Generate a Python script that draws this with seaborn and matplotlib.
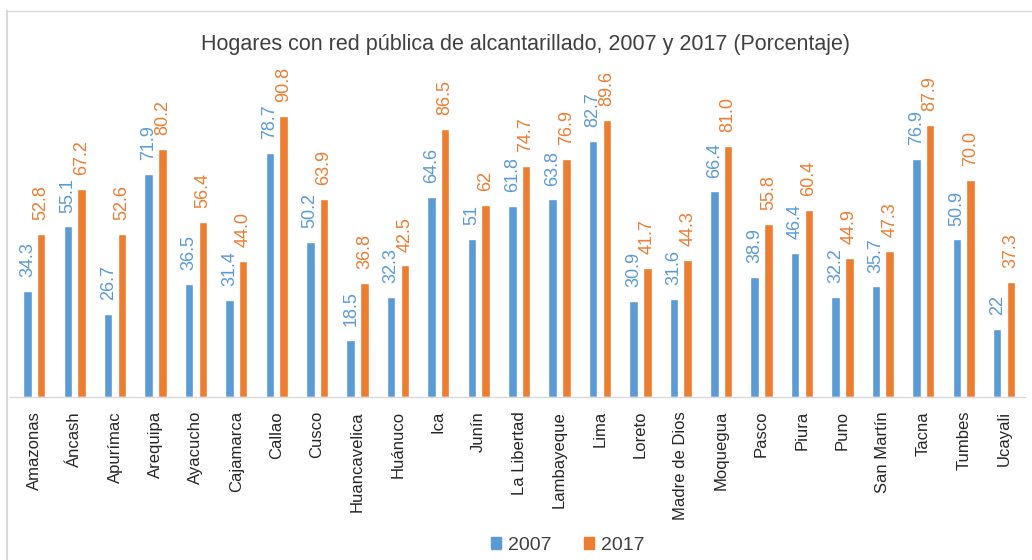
import matplotlib
matplotlib.use("Agg")
import matplotlib.pyplot as plt
from matplotlib.lines import Line2D
import seaborn as sns
import pandas as pd

regiones = ["Amazonas", "Áncash", "Apurímac", "Arequipa", "Ayacucho", "Cajamarca",
            "Callao", "Cusco", "Huancavelica", "Huánuco", "Ica", "Junín",
            "La Libertad", "Lambayeque", "Lima", "Loreto", "Madre de Dios",
            "Moquegua", "Pasco", "Piura", "Puno", "San Martín", "Tacna",
            "Tumbes", "Ucayali"]
valores_2007 = [34.3, 55.1, 26.7, 71.9, 36.5, 31.4, 78.7, 50.2, 18.5, 32.3, 64.6, 51,
                61.8, 63.8, 82.7, 30.9, 31.6, 66.4, 38.9, 46.4, 32.2, 35.7, 76.9,
                50.9, 22]
valores_2017 = [52.8, 67.2, 52.6, 80.2, 56.4, 44.0, 90.8, 63.9, 36.8, 42.5, 86.5, 62,
                74.7, 76.9, 89.6, 41.7, 44.3, 81.0, 55.8, 60.4, 44.9, 47.3, 87.9,
                70.0, 37.3]
anios = ["2007", "2017"]
colores = ["#5B9BD5", "#ED7D31"]

df = pd.DataFrame({
    "Región": regiones * 2,
    "Año": [anios[0]] * len(regiones) + [anios[1]] * len(regiones),
    "Valor": valores_2007 + valores_2017,
})

sns.set_theme(style="white")
plt.rcParams["font.family"] = ["Liberation Sans", "DejaVu Sans"]

fig = plt.figure(figsize=(10.32, 5.6), dpi=100)
ax = fig.add_axes([0.0097, 0.291, 0.9836, 0.553])

sns.barplot(data=df, x="Región", y="Valor", hue="Año", order=regiones,
            hue_order=anios, palette=colores, width=0.68, gap=0.38,
            saturation=1, ax=ax, legend=True)

# Value labels above each bar, rotated like the category labels
for container, color, vals in zip(ax.containers, colores, [valores_2007, valores_2017]):
    for bar, v in zip(container, vals):
        ax.annotate(str(v), (bar.get_x() + bar.get_width() / 2, bar.get_height()),
                    xytext=(0, 10), textcoords="offset points", rotation=90,
                    ha="center", va="bottom", color=color, fontsize=13,
                    annotation_clip=False)

ax.set_ylim(0, 100)
ax.set_xlim(-0.6, len(regiones) - 0.48)
ax.set_xlabel("")
ax.set_ylabel("")
ax.set_yticks([])
for s in ["top", "right", "left"]:
    ax.spines[s].set_visible(False)
ax.spines["bottom"].set_color("#D9D9D9")
ax.spines["bottom"].set_linewidth(1.0)
ax.tick_params(axis="x", length=0, pad=10, labelsize=12, labelcolor="#262626",
               rotation=90)

ax.legend_.remove()
handles = [plt.Rectangle((0, 0), 1, 1, color=c) for c in colores]
fig.legend(handles, anios, loc="center", bbox_to_anchor=(0.550, 0.026), ncol=2,
           frameon=False, fontsize=14, handlelength=0.5, handleheight=0.5,
           columnspacing=1.7, handletextpad=0.35, labelcolor="#404040")

fig.text(0.509, 0.92, "Hogares con red pública de alcantarillado, 2007 y 2017 (Porcentaje)",
         ha="center", va="center", fontsize=15.5, color="#404040")

# Light frame along the top and left edges
fig.add_artist(Line2D([0.0065, 1.0], [0.980, 0.980], color="#D9D9D9", lw=1.0))
fig.add_artist(Line2D([0.0065, 0.0065], [0.0, 0.980], color="#D9D9D9", lw=1.5))

fig.savefig("out.png", dpi=100, facecolor="white")
